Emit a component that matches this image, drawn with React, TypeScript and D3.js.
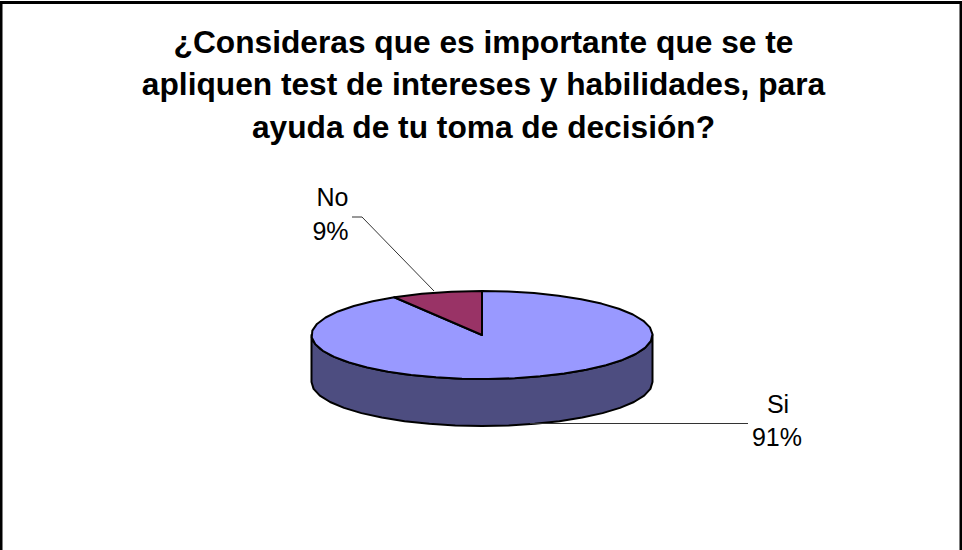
import React from "react";
import * as d3 from "d3";

const categories = ["Si", "No"];
const values = [91.4, 8.6];
const colors = ["#9999FF", "#993366"];
const sideColor = "#4D4D80";
const titleLines = [
  "¿Consideras que es importante que se te",
  "apliquen test de intereses y habilidades, para",
  "ayuda de tu toma de decisión?",
];
const titleBaselines = [53, 95, 138];

const cx = 482, cy = 335, rx = 170.5, ry = 44, depth = 47;
const xS = d3.scaleLinear().domain([-1, 1]).range([cx - rx, cx + rx]);
const yS = d3.scaleLinear().domain([-1, 1]).range([cy - ry, cy + ry]);
const step = Math.PI / 20;

const pt = (a: number, dy = 0): [number, number] => [xS(Math.sin(a)), yS(-Math.cos(a)) + dy];
const samples = (a0: number, a1: number) => {
  const n = Math.max(1, Math.round(Math.abs(a1 - a0) / step));
  return d3.range(n + 1).map((i) => a0 + ((a1 - a0) * i) / n);
};
const pct = (v: number) => `${Math.round(v)}%`;

export default function App() {
  const arcs = d3.pie<number>().sort(null)(values);
  const line = d3.line();
  const sideTop = samples(Math.PI / 2, (3 * Math.PI) / 2).map((a) => pt(a));
  const sideBottom = samples((3 * Math.PI) / 2, Math.PI / 2).map((a) => pt(a, depth));
  return (
    <svg width={962} height={550} style={{ position: "fixed", left: 0, top: 0, background: "#fff" }}
      fontFamily="'Liberation Sans', Arial, sans-serif">
      <path d="M1,551V2.5H961V551" fill="none" stroke="#000" strokeWidth={3} />
      {titleLines.map((t, i) => (
        <text key={t} x={483.5} y={titleBaselines[i]} textAnchor="middle" fontWeight="bold" fontSize={31.7} fill="#000">{t}</text>
      ))}
      <path d={line([...sideTop, ...sideBottom])! + "Z"} fill={sideColor} stroke="#000" strokeWidth={2} strokeLinejoin="round" />
      {arcs.map((a, i) => {
        const rim = samples(a.startAngle, a.endAngle).map((x) => pt(x));
        return (
          <path key={categories[i]} d={line([[cx, cy], ...rim])! + "Z"} fill={colors[i]} stroke="#000" strokeWidth={2} strokeLinejoin="round" />
        );
      })}
      <polyline points="352,217 362,217 434,291" fill="none" stroke="#333" strokeWidth={1} />
      <polyline points="530,423.5 748,423.5" fill="none" stroke="#333" strokeWidth={1} />
      <g fontSize={25} fill="#000" textAnchor="middle">
        <text x={332.5} y={206}>{categories[1]}</text>
        <text x={330.5} y={240}>{pct(values[1])}</text>
        <text x={778} y={413}>{categories[0]}</text>
        <text x={777} y={446}>{pct(values[0])}</text>
      </g>
    </svg>
  );
}
